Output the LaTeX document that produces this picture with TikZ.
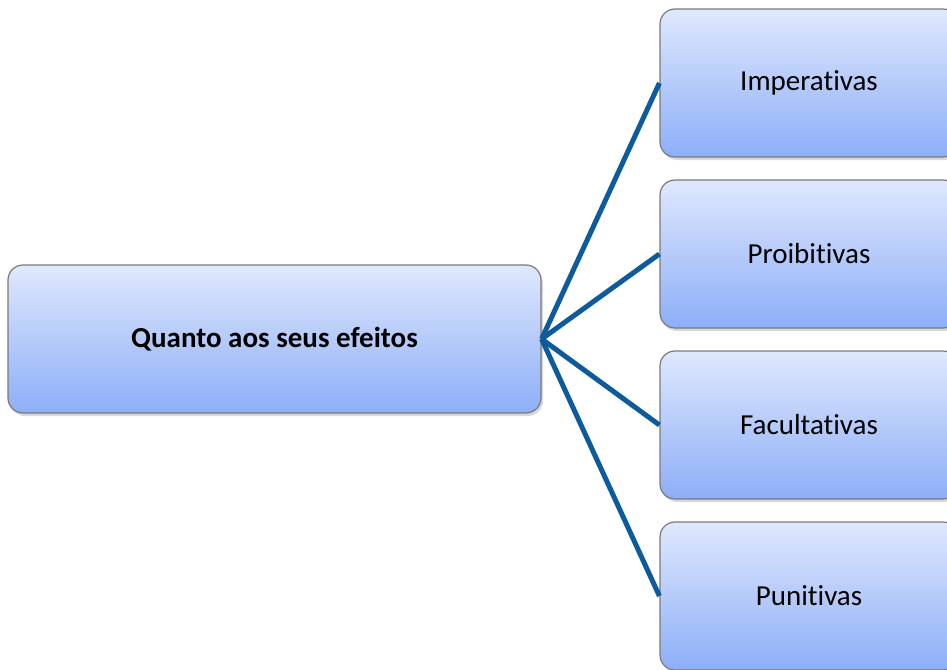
\documentclass[tikz,border=0pt]{standalone}
\usepackage{fontspec}
\setmainfont[Ligatures=NoCommon]{Carlito}
\usetikzlibrary{shadows}
\definecolor{boxtop}{HTML}{DFE8FD}
\definecolor{boxbot}{HTML}{8DAEF8}
\definecolor{boxline}{HTML}{7A7A7A}
\definecolor{linkblue}{HTML}{0D5A9D}
\tikzset{
  caixa/.style={draw=boxline, line width=1.2pt, rounded corners=15pt,
    top color=boxtop, bottom color=boxbot, inner sep=0pt,
    minimum height=148pt, font=\fontsize{29}{34}\selectfont,
    drop shadow={opacity=0.3, shadow xshift=2pt, shadow yshift=-3pt}},
  ligacao/.style={draw=linkblue, line width=5pt}
}
\begin{document}
\begin{tikzpicture}[x=1pt,y=-1pt]
  \useasboundingbox (0,0) rectangle (947,669);
  \clip (0,0) rectangle (947,669);
  \node[caixa, minimum width=533pt, font=\fontsize{29}{34}\selectfont\bfseries] (efeitos) at (274.5,339) {Quanto aos seus efeitos};
  \node[caixa, minimum width=298pt] (imperativas) at (809,83) {Imperativas};
  \node[caixa, minimum width=298pt] (proibitivas) at (809,254) {Proibitivas};
  \node[caixa, minimum width=298pt] (facultativas) at (809,425) {Facultativas};
  \node[caixa, minimum width=298pt] (punitivas) at (809,596) {Punitivas};
  \draw[ligacao] (efeitos.east) -- (imperativas.west);
  \draw[ligacao] (efeitos.east) -- (proibitivas.west);
  \draw[ligacao] (efeitos.east) -- (facultativas.west);
  \draw[ligacao] (efeitos.east) -- (punitivas.west);
\end{tikzpicture}
\end{document}
